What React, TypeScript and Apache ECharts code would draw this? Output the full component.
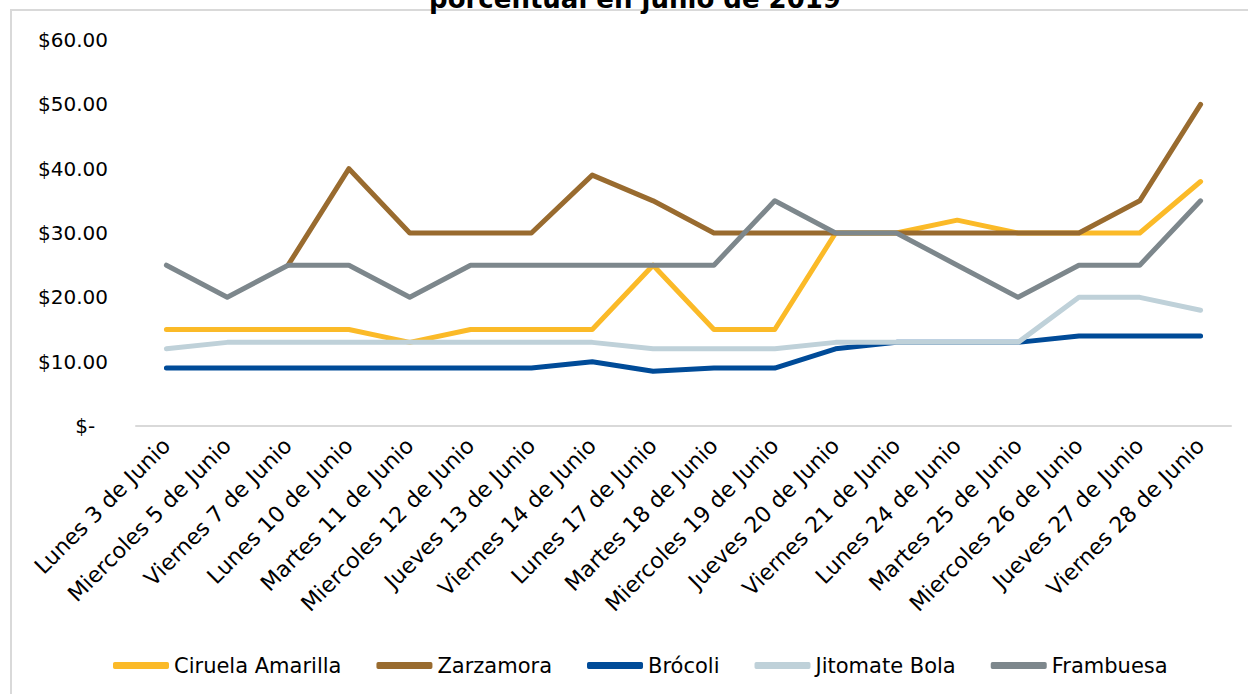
import React, { useEffect, useRef } from "react";
import * as echarts from "echarts";

const categories = [
  "Lunes 3 de Junio", "Miercoles 5 de Junio", "Viernes 7 de Junio", "Lunes 10 de Junio",
  "Martes 11 de Junio", "Miercoles 12 de Junio", "Jueves 13 de Junio", "Viernes 14 de Junio",
  "Lunes 17 de Junio", "Martes 18 de Junio", "Miercoles 19 de Junio", "Jueves 20 de Junio",
  "Viernes 21 de Junio", "Lunes 24 de Junio", "Martes 25 de Junio", "Miercoles 26 de Junio",
  "Jueves 27 de Junio", "Viernes 28 de Junio",
];
const ciruelaAmarilla = [15, 15, 15, 15, 13, 15, 15, 15, 25, 15, 15, 30, 30, 32, 30, 30, 30, 38];
const zarzamora = [null, null, 25, 40, 30, 30, 30, 39, 35, 30, 30, 30, 30, 30, 30, 30, 35, 50];
const brocoli = [9, 9, 9, 9, 9, 9, 9, 10, 8.5, 9, 9, 12, 13, 13, 13, 14, 14, 14];
const jitomateBola = [12, 13, 13, 13, 13, 13, 13, 13, 12, 12, 12, 13, 13, 13, 13, 20, 20, 18];
const frambuesa = [25, 20, 25, 25, 20, 25, 25, 25, 25, 25, 35, 30, 30, 25, 20, 25, 25, 35];
const titleText = "porcentual en junio de 2019";

const FONT = "DejaVu Sans";

export default function App() {
  const ref = useRef<HTMLDivElement>(null);
  useEffect(() => {
    if (!ref.current) return;
    const chart = echarts.init(ref.current, null, { renderer: "svg" });
    const mk = (name: string, data: (number | null)[], color: string) => ({
      name,
      type: "line",
      data,
      symbol: "none",
      connectNulls: false,
      lineStyle: { color, width: 5, cap: "round", join: "round" },
      itemStyle: { color },
    });
    chart.setOption({
      animation: false,
      backgroundColor: "#ffffff",
      textStyle: { fontFamily: FONT },
      graphic: [
        {
          type: "rect",
          shape: { x: 11, y: 10, width: 1260, height: 720 },
          style: { fill: "none", stroke: "#D9D9D9", lineWidth: 2 },
          silent: true,
        },
        {
          type: "text",
          x: 635,
          y: 12,
          style: {
            text: titleText,
            fill: "#000000",
            font: `bold 26px "${FONT}"`,
            align: "center",
            verticalAlign: "bottom",
          },
          silent: true,
        },
      ],
      grid: { left: 136, right: 17, top: 40, bottom: 268, containLabel: false },
      xAxis: {
        type: "category",
        data: categories,
        boundaryGap: true,
        axisLine: { show: true, lineStyle: { color: "#D9D9D9", width: 2 } },
        axisTick: { show: false },
        axisLabel: {
          interval: 0,
          rotate: 45,
          margin: 16,
          color: "#000000",
          fontSize: 22,
          fontFamily: FONT,
        },
        splitLine: { show: false },
      },
      yAxis: {
        type: "value",
        min: 0,
        max: 60,
        interval: 10,
        axisLine: { show: false },
        axisTick: { show: false },
        splitLine: { show: false },
        axisLabel: {
          margin: 28,
          color: "#000000",
          fontSize: 20,
          fontFamily: FONT,
          formatter: (v: number) => (v === 0 ? "$-\u00a0\u00a0" : "$" + v.toFixed(2)),
        },
      },
      legend: {
        left: 108,
        top: 650,
        itemWidth: 56,
        itemHeight: 7,
        itemGap: 35,
        icon: "roundRect",
        textStyle: { color: "#000000", fontSize: 21, fontFamily: FONT },
        data: ["Ciruela Amarilla", "Zarzamora", "Brócoli", "Jitomate Bola", "Frambuesa"],
      },
      series: [
        mk("Ciruela Amarilla", ciruelaAmarilla, "#FBBA28"),
        mk("Zarzamora", zarzamora, "#996B2F"),
        mk("Brócoli", brocoli, "#004B98"),
        mk("Jitomate Bola", jitomateBola, "#BFD1D9"),
        mk("Frambuesa", frambuesa, "#7D878C"),
      ],
    });
    return () => chart.dispose();
  }, []);
  return (
    <div
      ref={ref}
      style={{ position: "absolute", left: 0, top: 0, width: 1248, height: 694, overflow: "hidden" }}
    />
  );
}
